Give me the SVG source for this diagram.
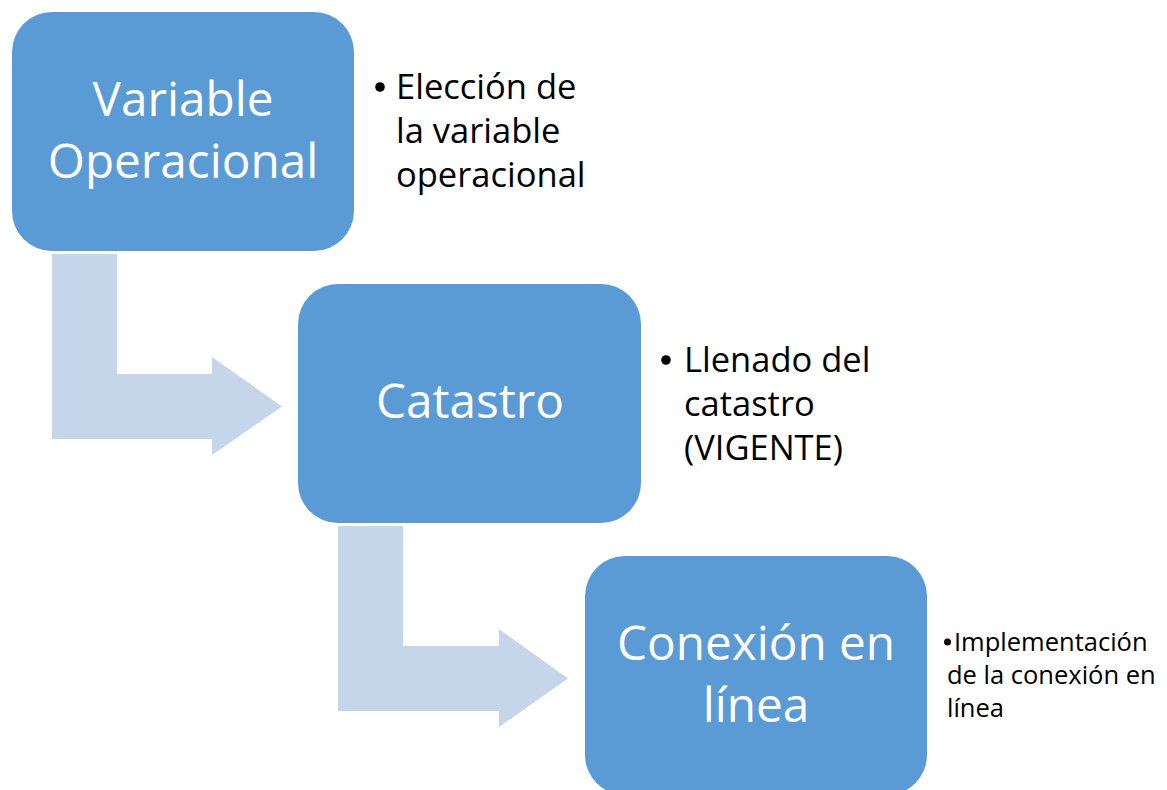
<svg xmlns="http://www.w3.org/2000/svg" width="1167" height="790" viewBox="0 0 1167 790">
<style>
.box{fill:#5B9BD5}
.arrow{fill:#C5D5EA}
.dot{fill:#000000}
.bt{font-family:"Open Sans","Noto Sans",sans-serif;font-size:47.7px;fill:#FFFFFF;text-anchor:middle}
.nt{font-family:"Open Sans","Noto Sans",sans-serif;font-size:34.5px;fill:#000000}
.ns{font-family:"Open Sans","Noto Sans",sans-serif;font-size:25.5px;fill:#000000}
</style>
<rect width="1167" height="790" fill="#FFFFFF"/>
<g id="connectors">
<path class="arrow" d="M52,254 H117 V374 H212 V357 L282,406.5 L212,455 V439 H52 Z"/>
<path class="arrow" d="M338,526 H403 V646 H499 V629 L568,678.5 L499,727 V711 H338 Z"/>
</g>
<g id="node-variable">
<rect class="box" x="12" y="12" width="342" height="239" rx="40" ry="40"/>
<text class="bt" x="183" y="116">Variable</text>
<text class="bt" x="183" y="178">Operacional</text>
</g>
<g id="note-variable">
<circle class="dot" cx="380" cy="87" r="4.8"/>
<text class="nt" x="396" y="99">Elección de</text>
<text class="nt" x="396" y="143">la variable</text>
<text class="nt" x="396" y="187">operacional</text>
</g>
<g id="node-catastro">
<rect class="box" x="298" y="284" width="343" height="239" rx="40" ry="40"/>
<text class="bt" x="470" y="418">Catastro</text>
</g>
<g id="note-catastro">
<circle class="dot" cx="666" cy="360" r="4.8"/>
<text class="nt" x="684" y="372">Llenado del</text>
<text class="nt" x="684" y="416">catastro</text>
<text class="nt" x="684" y="460">(VIGENTE)</text>
</g>
<g id="node-conexion">
<rect class="box" x="585" y="556" width="342" height="239" rx="40" ry="40"/>
<text class="bt" x="756" y="660">Conexión en</text>
<text class="bt" x="756" y="722">línea</text>
</g>
<g id="note-conexion">
<circle class="dot" cx="947.5" cy="642" r="3.5"/>
<text class="ns" x="954" y="651">Implementación</text>
<text class="ns" x="947" y="684">de la conexión en</text>
<text class="ns" x="947" y="717">línea</text>
</g>
</svg>
